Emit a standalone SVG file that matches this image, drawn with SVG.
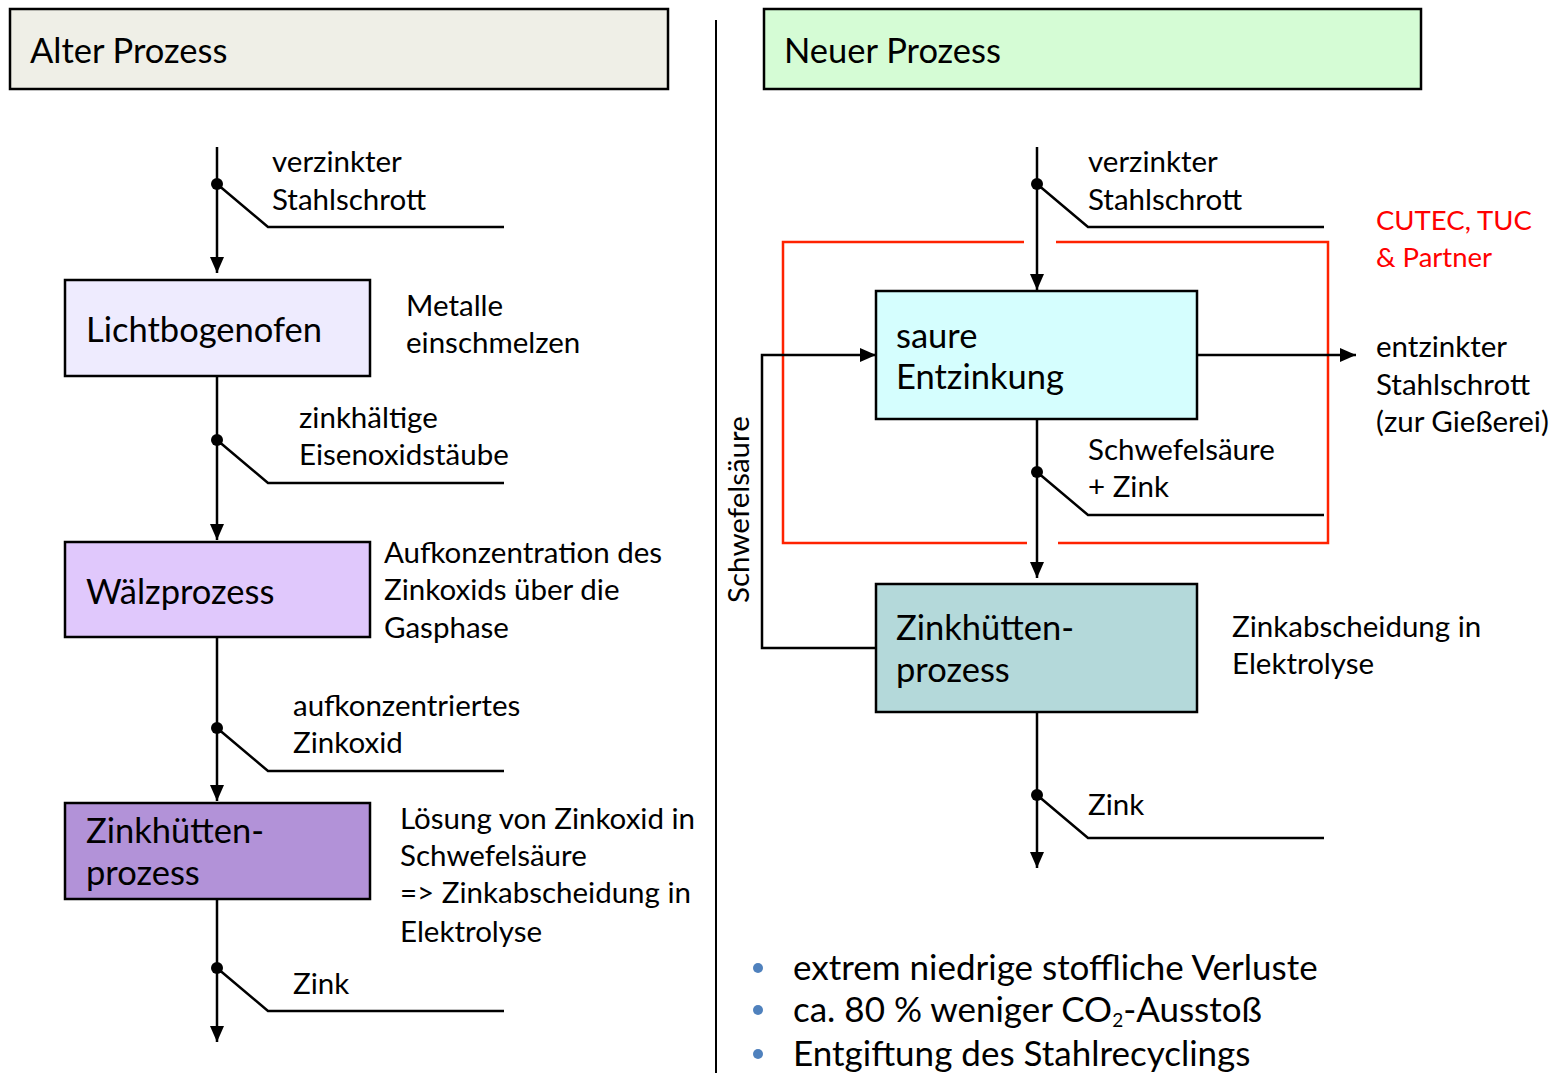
<svg xmlns="http://www.w3.org/2000/svg" width="1560" height="1073" viewBox="0 0 1560 1073">
  <style>
    text { font-family: Lato, "Liberation Sans", sans-serif; fill: #000; }
    .hdr { font-size: 34.5px; }
    .box-t { font-size: 34.5px; }
    .lbl { font-size: 29.5px; }
    .red { fill: #FF0000; font-size: 27.5px; }
    .bul { font-size: 35px; }
    .box { stroke: #000; stroke-width: 2.5; }
    .ln { fill: none; stroke: #000; stroke-width: 2.5; }
    .dot { fill: #000; }
  </style>
  <defs>
    <marker id="arr" markerUnits="userSpaceOnUse" markerWidth="16" markerHeight="18" viewBox="0 0 16 18" refX="16" refY="7" orient="auto">
      <path d="M0,0 L16,7 L0,14 Z" fill="#000"/>
    </marker>
  </defs>
  <rect width="1560" height="1073" fill="#fff"/>

  <!-- divider -->
  <line x1="716" y1="20" x2="716" y2="1073" stroke="#000" stroke-width="2"/>

  <!-- headers -->
  <g id="hdr-alt">
    <rect class="box" x="10" y="9" width="658" height="80" fill="#EFEFE7"/>
    <text class="hdr" x="30" y="63">Alter Prozess</text>
  </g>
  <g id="hdr-neu">
    <rect class="box" x="764" y="9" width="657" height="80" fill="#D5FCD5"/>
    <text class="hdr" x="784" y="63">Neuer Prozess</text>
  </g>

  <!-- left process nodes -->
  <g id="lichtbogenofen">
    <rect class="box" x="65" y="280" width="305" height="96" fill="#EEEBFE"/>
    <text class="box-t" x="86" y="342">Lichtbogenofen</text>
  </g>
  <g id="waelzprozess">
    <rect class="box" x="65" y="542" width="305" height="95" fill="#E0C8FC"/>
    <text class="box-t" x="86" y="604">Wälzprozess</text>
  </g>
  <g id="zinkhuette-alt">
    <rect class="box" x="65" y="803" width="305" height="96" fill="#B292D8"/>
    <text class="box-t" x="86" y="843">Zinkhütten-</text>
    <text class="box-t" x="86" y="885">prozess</text>
  </g>

  <!-- right process nodes -->
  <g id="partner-frame">
    <path d="M1024,242 H783 V543 H1027 M1058,543 H1328 V242 H1056" fill="none" stroke="#FF2200" stroke-width="2.5"/>
    <text class="red" x="1376" y="230">CUTEC, TUC</text>
    <text class="red" x="1376" y="267">&amp; Partner</text>
  </g>
  <g id="saure-entzinkung">
    <rect class="box" x="876" y="291" width="321" height="128" fill="#D5FEFE"/>
    <text class="box-t" x="896" y="348">saure</text>
    <text class="box-t" x="896" y="389">Entzinkung</text>
  </g>
  <g id="zinkhuette-neu">
    <rect class="box" x="876" y="584" width="321" height="128" fill="#B4D9DA"/>
    <text class="box-t" x="896" y="640">Zinkhütten-</text>
    <text class="box-t" x="896" y="682">prozess</text>
  </g>

  <!-- connectors -->
  <g id="connectors">
    <!-- left column -->
    <line class="ln" x1="217" y1="147" x2="217" y2="273" marker-end="url(#arr)"/>
    <line class="ln" x1="217" y1="376" x2="217" y2="540" marker-end="url(#arr)"/>
    <line class="ln" x1="217" y1="637" x2="217" y2="801" marker-end="url(#arr)"/>
    <line class="ln" x1="217" y1="899" x2="217" y2="1042" marker-end="url(#arr)"/>
    <path class="ln" d="M217,184 L268,227 H504"/>
    <path class="ln" d="M217,440 L268,483 H504"/>
    <path class="ln" d="M217,728 L268,771 H504"/>
    <path class="ln" d="M217,968 L268,1011 H504"/>
    <circle class="dot" cx="217" cy="184" r="6"/>
    <circle class="dot" cx="217" cy="440" r="6"/>
    <circle class="dot" cx="217" cy="728" r="6"/>
    <circle class="dot" cx="217" cy="968" r="6"/>
    <!-- right column -->
    <line class="ln" x1="1037" y1="147" x2="1037" y2="290" marker-end="url(#arr)"/>
    <line class="ln" x1="1037" y1="419" x2="1037" y2="578" marker-end="url(#arr)"/>
    <line class="ln" x1="1037" y1="712" x2="1037" y2="868" marker-end="url(#arr)"/>
    <line class="ln" x1="1197" y1="355" x2="1356" y2="355" marker-end="url(#arr)"/>
    <path class="ln" d="M876,648 H762 V355 H876" marker-end="url(#arr)"/>
    <path class="ln" d="M1037,184 L1088,227 H1324"/>
    <path class="ln" d="M1037,472 L1088,515 H1324"/>
    <path class="ln" d="M1037,795 L1088,838 H1324"/>
    <circle class="dot" cx="1037" cy="184" r="6"/>
    <circle class="dot" cx="1037" cy="472" r="6"/>
    <circle class="dot" cx="1037" cy="795" r="6"/>
  </g>

  <!-- left labels -->
  <g id="labels-alt">
    <text class="lbl" x="272" y="172">verzinkter</text>
    <text class="lbl" x="272" y="210">Stahlschrott</text>
    <text class="lbl" x="406" y="316">Metalle</text>
    <text class="lbl" x="406" y="353">einschmelzen</text>
    <text class="lbl" x="299" y="428">zinkhältige</text>
    <text class="lbl" x="299" y="465">Eisenoxidstäube</text>
    <text class="lbl" x="384" y="563">Aufkonzentration des</text>
    <text class="lbl" x="384" y="600">Zinkoxids über die</text>
    <text class="lbl" x="384" y="638">Gasphase</text>
    <text class="lbl" x="293" y="716">aufkonzentriertes</text>
    <text class="lbl" x="293" y="753">Zinkoxid</text>
    <text class="lbl" x="400" y="829">Lösung von Zinkoxid in</text>
    <text class="lbl" x="400" y="866">Schwefelsäure</text>
    <text class="lbl" x="400" y="903">=&gt; Zinkabscheidung in</text>
    <text class="lbl" x="400" y="942">Elektrolyse</text>
    <text class="lbl" x="293" y="994">Zink</text>
  </g>

  <!-- right labels -->
  <g id="labels-neu">
    <text class="lbl" x="1088" y="172">verzinkter</text>
    <text class="lbl" x="1088" y="210">Stahlschrott</text>
    <text class="lbl" x="1376" y="357">entzinkter</text>
    <text class="lbl" x="1376" y="395">Stahlschrott</text>
    <text class="lbl" x="1376" y="432">(zur Gießerei)</text>
    <text class="lbl" x="1088" y="460">Schwefelsäure</text>
    <text class="lbl" x="1088" y="497">+ Zink</text>
    <text class="lbl" x="1232" y="637">Zinkabscheidung in</text>
    <text class="lbl" x="1232" y="674">Elektrolyse</text>
    <text class="lbl" x="1088" y="815">Zink</text>
    <text class="lbl" transform="translate(749,603) rotate(-90)">Schwefelsäure</text>
  </g>

  <!-- summary bullets -->
  <g id="bullets">
    <circle cx="758" cy="968" r="5" fill="#4F81BD"/>
    <circle cx="758" cy="1010" r="5" fill="#4F81BD"/>
    <circle cx="758" cy="1054" r="5" fill="#4F81BD"/>
    <text class="bul" x="793" y="980">extrem niedrige stoffliche Verluste</text>
    <text class="bul" x="793" y="1022">ca. 80 % weniger CO<tspan font-size="19" dy="5">2</tspan><tspan dy="-5">-Ausstoß</tspan></text>
    <text class="bul" x="793" y="1066">Entgiftung des Stahlrecyclings</text>
  </g>
</svg>
